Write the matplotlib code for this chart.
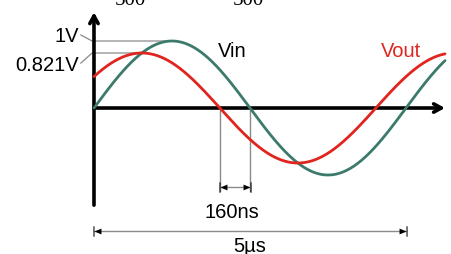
import matplotlib.pyplot as plt
import numpy as np
from matplotlib.path import Path

# signal parameters
series_names = ["Vin", "Vout"]
amplitudes_v = [1.0, 0.821]
amplitude_labels = ["1V", "0.821V"]
series_colors = ["#3c7a6c", "#e0241e"]
period_us = 5.0
lead_deg = [0.0, 34.8]
t_end_us = 5.625
delay_label = "160ns"
period_label = "5\u00b5s"
top_labels = ["500", "500"]

plt.rcParams["font.family"] = ["Liberation Sans", "DejaVu Sans"]

fig = plt.figure(figsize=(4.51, 2.54), dpi=100)
ax = fig.add_axes([0, 0, 1, 1])
ax.set_xlim(-1.506, 5.721)
ax.set_ylim(-2.179, 1.612)
ax.axis("off")

t = np.linspace(0, t_end_us, 500)
w = 2 * np.pi / period_us
for name, amp, lead, col in zip(series_names, amplitudes_v, lead_deg, series_colors):
    ax.plot(t, amp * np.sin(w * t + np.radians(lead)), color=col, lw=2.0,
            solid_capstyle="round", zorder=3)

# axes with arrow heads
ax.annotate("", xy=(0, 1.43), xytext=(0, -1.45),
            arrowprops=dict(arrowstyle="->,head_length=0.55,head_width=0.3",
                            lw=2.6, color="black", shrinkA=0, shrinkB=0), zorder=2)
ax.annotate("", xy=(t_end_us, 0), xytext=(0, 0),
            arrowprops=dict(arrowstyle="->,head_length=0.55,head_width=0.3",
                            lw=2.6, color="black", shrinkA=0, shrinkB=0), zorder=2)

# amplitude leaders
grey = "#8a8a8a"
label_y = [1.09, 0.67]
for amp, lead, lab, ly in zip(amplitudes_v, lead_deg, amplitude_labels, label_y):
    t_peak = (np.radians(90 - lead)) / w
    ax.plot([-0.21, -0.03, t_peak], [ly, amp, amp], color=grey, lw=0.9, zorder=1)
    ax.text(-0.24, ly - 0.03, lab, ha="right", va="center", fontsize=14.5)

# series labels
ax.text(1.98, 0.84, series_names[0], ha="left", va="center", fontsize=14.5, color="black")
ax.text(4.6, 0.84, series_names[1], ha="left", va="center", fontsize=14.5,
        color=series_colors[1])

# dimension markers: bar + triangle with tip at the point
left_mark = Path([(0, 0), (1, 0.42), (1, -0.42), (0, 0), (0, 0.75), (-0.15, 0.75),
                  (-0.15, -0.75), (0, -0.75), (0, 0)],
                 [Path.MOVETO, Path.LINETO, Path.LINETO, Path.CLOSEPOLY,
                  Path.MOVETO, Path.LINETO, Path.LINETO, Path.LINETO, Path.CLOSEPOLY])
right_mark = Path(left_mark.vertices * [-1, 1], left_mark.codes)


def dimension(t0, t1, y):
    ax.plot([t0, t1], [y, y], color=grey, lw=1.0, zorder=1)
    ax.plot([t0], [y], marker=left_mark, ms=10, color="black", mec="none", zorder=2)
    ax.plot([t1], [y], marker=right_mark, ms=10, color="black", mec="none", zorder=2)


# zero crossings of Vin and Vout
t_vin = period_us / 2
t_vout = period_us / 2 - np.radians(lead_deg[1]) / w
for tz in (t_vout, t_vin):
    ax.plot([tz, tz], [0, -1.24], color=grey, lw=1.0, zorder=1)
dimension(t_vout, t_vin, -1.18)
ax.text((t_vout + t_vin) / 2 - 0.05, -1.56, delay_label, ha="center", va="center", fontsize=14.5)

dimension(0, period_us, -1.835)
ax.text(period_us / 2, -2.07, period_label, ha="center", va="center", fontsize=14.5)

# cut-off labels at the very top
for xc, lab in zip([130, 248], top_labels):
    fig.text(xc / 451, 1 - 5 / 254, lab, ha="center", va="baseline",
             fontsize=15, family="Liberation Serif")

fig.savefig("out.png", dpi=100)
